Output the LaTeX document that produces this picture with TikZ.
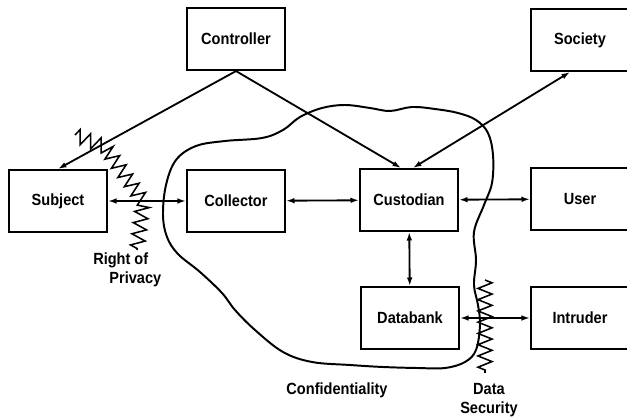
\documentclass[tikz,border=0pt]{standalone}
\usepackage{fontspec}
\setmainfont{Liberation Sans}[FakeStretch=0.9]
\usetikzlibrary{arrows.meta,decorations.pathmorphing}

\tikzset{
  box/.style={draw, line width=1.5pt, minimum width=2.45cm, minimum height=1.55cm,
    font=\bfseries\fontsize{11.5}{13}\selectfont},
  lbl/.style={font=\bfseries\fontsize{11.5}{13}\selectfont, inner sep=0pt},
  link/.style={line width=1.3pt, {Latex[length=6pt,width=4pt]}-{Latex[length=6pt,width=4pt]}},
  oneway/.style={line width=1.3pt, -{Latex[length=6pt,width=4pt]}},
  wiggle/.style={line width=1.1pt, decorate,
    decoration={zigzag, segment length=8pt, amplitude=5pt}}
}

\begin{document}
\begin{tikzpicture}[x=0.025cm, y=-0.025cm]
    \useasboundingbox (0,0) rectangle (627,419);

    % Confidentiality boundary
    \draw [line width=1.4pt] plot [smooth cycle, tension=0.6] coordinates {
        (163,215) (166,185) (176,160) (196,146) (225,141) (262,138) (283,130)
        (300,117) (322,108) (345,105) (370,108) (390,111) (412,107) (435,109)
        (458,113) (476,120) (488,133) (493,155) (492,183) (484,205) (474,232)
        (476,260) (474,285) (478,305) (480,325) (476,350) (465,362) (445,368)
        (417,368) (383,367) (350,365) (312,362) (283,352) (255,330) (235,310)
        (222,293) (200,272) (178,254) (167,237)};

    % Boxes
    \node [box] (ctrl) at (236,39) {Controller};
    \node [box] (soc)  at (580,40) {Society};
    \node [box] (subj) at (58,201) {Subject};
    \node [box] (coll) at (236,201) {Collector};
    \node [box] (cust) at (409,200) {Custodian};
    \node [box] (user) at (580,199) {User};
    \node [box] (bank) at (410,318) {Databank};
    \node [box] (intr) at (580,318) {Intruder};

    % Arrows
    \draw [oneway] (ctrl.south) -- (subj.north);
    \draw [oneway] (ctrl.south) -- ([xshift=-0.2cm]cust.north);
    \draw [link] ([xshift=0.1cm]cust.north) -- ([xshift=-0.25cm]soc.south);
    \draw [link] (subj) -- (coll);
    \draw [link] (coll) -- (cust);
    \draw [link] (cust) -- (user);
    \draw [link] (cust) -- (bank);
    \draw [link] (bank) -- (intr);

    % Barriers
    \draw [wiggle] (75,135) -- (105,147) -- (143,201) -- (137,250);
    \draw [wiggle] (485,280) -- (485,373);

    % Labels
    \node [lbl, align=left, anchor=north west] (priv) at (93,253) {Right of\\\quad Privacy};
    \node [lbl] (conf) at (337,390) {Confidentiality};
    \node [lbl, align=center] (sec) at (489,400) {Data\\Security};
\end{tikzpicture}
\end{document}
